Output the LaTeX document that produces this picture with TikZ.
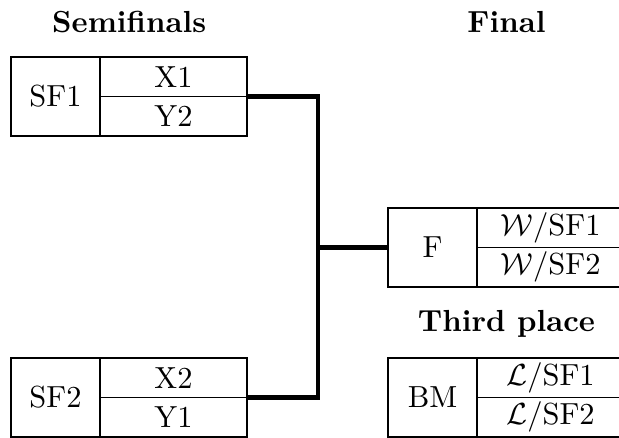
\documentclass[tikz,border=0pt]{standalone}
\usepackage{amsmath}
\usepackage{tikz}
\usetikzlibrary{positioning}

\tikzset{
  matchbox/.style={draw, inner sep=0pt, outer sep=0pt, minimum width=1.026cm, minimum height=0.911cm},
  slot/.style={draw, inner sep=0pt, outer sep=0pt, minimum width=1.695cm, minimum height=0.4555cm},
  bracket/.style={ultra thick}
}

\begin{document}
\begin{tikzpicture}

    \useasboundingbox (0,0) rectangle (7.137,5.05);

    % headings
    \node[font=\bfseries] (semis) at (1.49,4.792) {Semifinals};
    \node[font=\bfseries] (final) at (5.84,4.792) {Final};
    \node[font=\bfseries] (third) at (5.84,1.321) {Third place};

    % semifinal 1
    \node[matchbox, anchor=north west] (sf1) at (0.127,4.393) {SF1};
    \node[slot, anchor=north west] (sf1top) at (sf1.north east) {X1};
    \node[slot, below=0pt of sf1top] (sf1bot) {Y2};

    % semifinal 2
    \node[matchbox, anchor=north west] (sf2) at (0.127,0.922) {SF2};
    \node[slot, anchor=north west] (sf2top) at (sf2.north east) {X2};
    \node[slot, below=0pt of sf2top] (sf2bot) {Y1};

    % final
    \node[matchbox, anchor=north west] (fin) at (4.474,2.652) {F};
    \node[slot, anchor=north west] (fintop) at (fin.north east) {$\mathcal{W}$/SF1};
    \node[slot, below=0pt of fintop] (finbot) {$\mathcal{W}$/SF2};

    % third place
    \node[matchbox, anchor=north west] (bm) at (4.474,0.922) {BM};
    \node[slot, anchor=north west] (bmtop) at (bm.north east) {$\mathcal{L}$/SF1};
    \node[slot, below=0pt of bmtop] (bmbot) {$\mathcal{L}$/SF2};

    % bracket
    \path (fin.west) ++(-0.807,0) coordinate (join);
    \draw[bracket] (sf1top.south east) -| (join) |- (sf2top.south east);
    \draw[bracket] (join) -- (fin.west);

\end{tikzpicture}
\end{document}
